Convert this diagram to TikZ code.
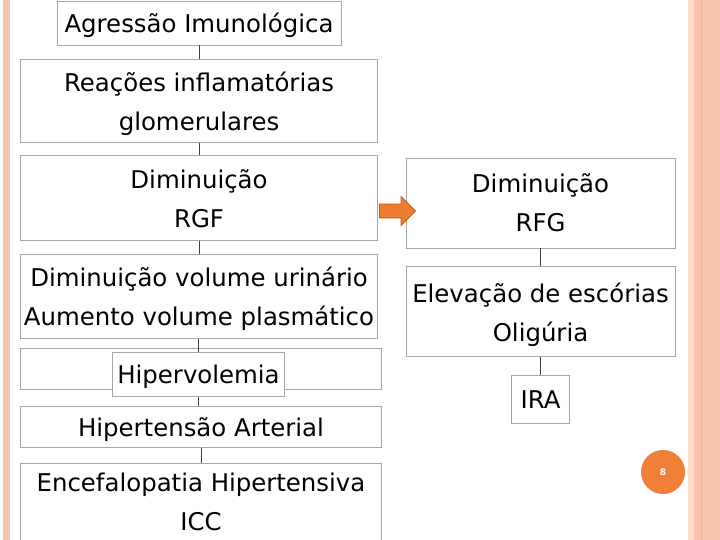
\documentclass[tikz,border=0pt]{standalone}
\usepackage{fontspec}
\setmainfont{DejaVu Sans}
\usepackage{xcolor}
\usetikzlibrary{positioning, shapes.arrows}
\definecolor{borda}{HTML}{A6A6A6}
\definecolor{salmao}{HTML}{F8C4AE}
\definecolor{salmaoclaro}{HTML}{FCDCCF}
\definecolor{laranja}{HTML}{ED7D31}
\definecolor{laranjaesc}{HTML}{C55A11}
\definecolor{pagina}{HTML}{F07F3A}

\begin{document}
\begin{tikzpicture}[
  x=1pt, y=-1pt,
  font=\fontsize{24.4}{39}\selectfont,
  caixa/.style={draw=borda, fill=white, align=center, inner sep=0pt,
                text depth=0pt, line width=0.9pt},
  liga/.style={line width=0.9pt, black!75},
  seta/.style={single arrow, draw=laranjaesc, fill=laranja, inner xsep=0pt,
               inner ysep=6.5pt, line width=0.8pt, minimum height=36pt,
               single arrow head extend=7.5pt},
]
\fill[white] (0,0) rectangle (720,540);
\useasboundingbox (0,0) rectangle (720,540);
% faixas laterais do slide
\fill[salmao] (3,0) rectangle (10,540);
\fill[salmaoclaro] (688,0) rectangle (720,540);
\fill[salmao] (694,0) rectangle (720,540);
\draw[laranja!60, line width=0.8pt] (701,0) -- (701,540);

% coluna esquerda
\node[caixa, minimum width=284pt, minimum height=44pt] (agr) at (199,23) {Agressão Imunológica};
\node[caixa, minimum width=357pt, minimum height=83pt, below=14pt of agr] (reac) {Reações inflamatórias\\glomerulares};
\node[caixa, minimum width=357pt, minimum height=85pt, below=12pt of reac] (rgf) {Diminuição\\RGF};
\node[caixa, minimum width=357pt, minimum height=84pt, below=12.5pt of rgf] (vol) {Diminuição volume urinário\\Aumento volume plasmático};
\node[caixa, minimum width=361pt, minimum height=41pt, below=9.5pt of vol, xshift=2pt] (hvfundo) {};
\node[caixa, minimum width=172pt, minimum height=44pt, yshift=-5.5pt, xshift=-2.5pt] (hiper) at (hvfundo) {Hipervolemia};
\node[caixa, minimum width=361pt, minimum height=41pt, below=16pt of hvfundo] (has) {Hipertensão Arterial};
\node[caixa, minimum width=361pt, minimum height=77pt, below=15pt of has] (ence) {Encefalopatia Hipertensiva\\ICC};

% coluna direita
\node[caixa, minimum width=269pt, minimum height=90pt] (rfg) at (540.5,203) {Diminuição\\RFG};
\node[caixa, minimum width=269pt, minimum height=90pt, below=18pt of rfg] (esc) {Elevação de escórias\\Oligúria};
\node[caixa, minimum width=58pt, minimum height=48pt, below=18pt of esc] (ira) {IRA};

\node[seta] (passa) at (394,211) {};

\draw[liga] (agr) -- (reac);
\draw[liga] (reac) -- (rgf);
\draw[liga] (rgf) -- (vol);
\draw[liga] (hiper.north) -- (hiper.north |- vol.south);
\draw[liga] (hiper.south) -- (hiper.south |- has.north);
\draw[liga] (has) -- (ence);
\draw[liga] (rfg) -- (esc);
\draw[liga] (esc) -- (ira);

\node[circle, fill=pagina, minimum size=44pt, inner sep=0pt, text=white,
      font=\fontsize{9}{9}\selectfont\bfseries] (num) at (663,472) {8};
\end{tikzpicture}
\end{document}
